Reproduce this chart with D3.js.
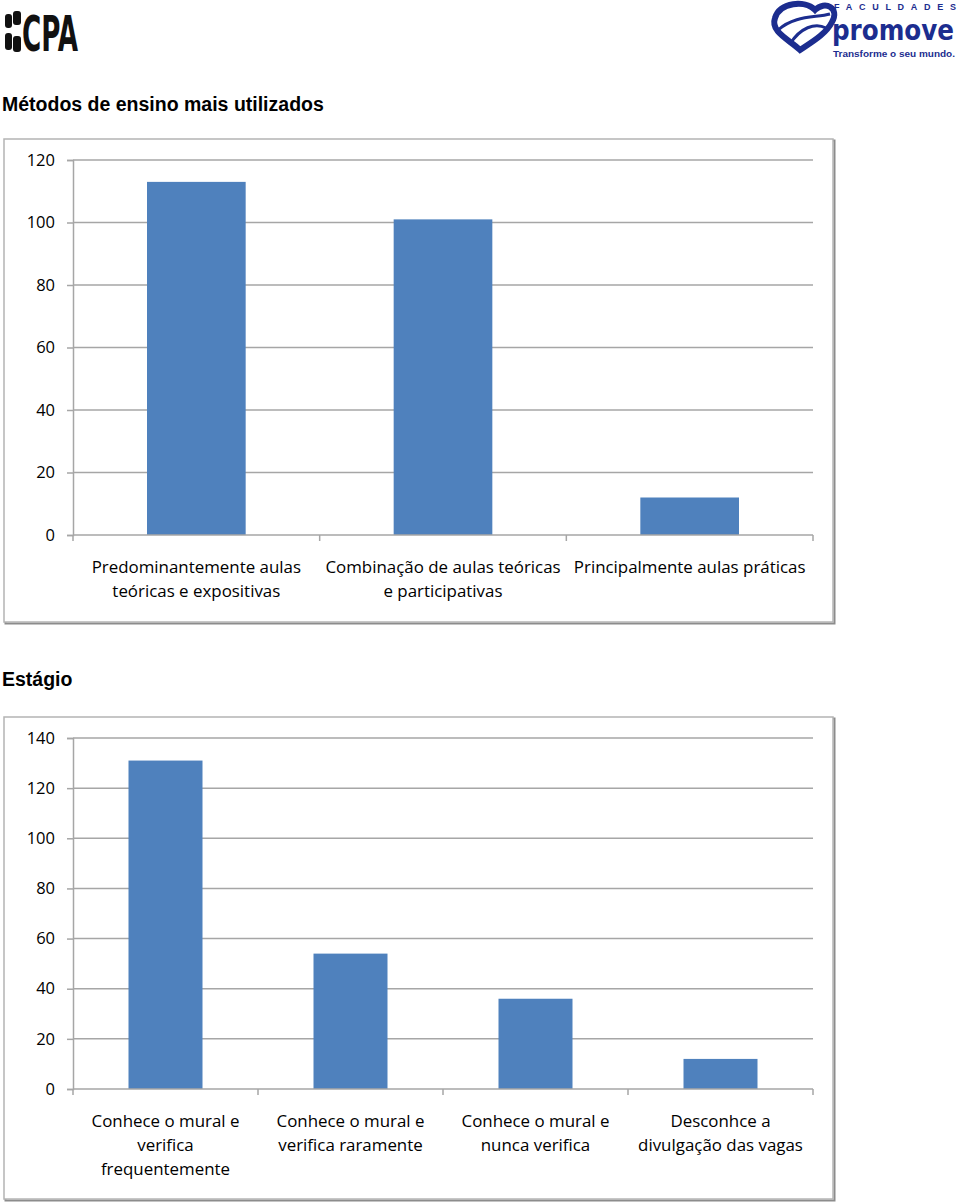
<!DOCTYPE html>
<html><head><meta charset="utf-8">
<script src="https://cdn.jsdelivr.net/npm/d3@7"></script>
<style>body{margin:0;background:#fff}svg{display:block}</style>
</head><body>
<script>
// ---- data ----
const chart1Title = "Métodos de ensino mais utilizados";
const chart1Categories = ["Predominantemente aulas\nteóricas e expositivas", "Combinação de aulas teóricas\ne participativas", "Principalmente aulas práticas"];
const chart1Values = [113, 101, 12];
const chart1Ticks = [0, 20, 40, 60, 80, 100, 120];

const chart2Title = "Estágio";
const chart2Categories = ["Conhece o mural e\nverifica\nfrequentemente", "Conhece o mural e\nverifica raramente", "Conhece o mural e\nnunca verifica", "Desconhce a\ndivulgação das vagas"];
const chart2Values = [131, 54, 36, 12];
const chart2Ticks = [0, 20, 40, 60, 80, 100, 120, 140];

const W = 960, H = 1204;
const svg = d3.select("body").append("svg").attr("width", W).attr("height", H);

// ---- logos (as text) ----
const cpa = svg.append("g");
cpa.append("rect").attr("x", 5).attr("y", 14).attr("width", 7).attr("height", 14).attr("rx", 3).attr("fill", "#111");
cpa.append("rect").attr("x", 5).attr("y", 33).attr("width", 7).attr("height", 17).attr("rx", 3).attr("fill", "#111");
cpa.append("rect").attr("x", 13).attr("y", 11).attr("width", 8).attr("height", 14).attr("rx", 3).attr("fill", "#111");
cpa.append("rect").attr("x", 13).attr("y", 36).attr("width", 8).attr("height", 16).attr("rx", 3).attr("fill", "#111");
cpa.append("text").attr("x", 22).attr("y", 51).attr("textLength", 56).attr("lengthAdjust", "spacingAndGlyphs")
  .attr("font-family", "DejaVu Sans Condensed, DejaVu Sans").attr("font-weight", "bold").attr("font-size", 50)
  .attr("fill", "#111").text("CPA");

const pm = svg.append("g");
const blue = "#1c2d8f";
pm.append("path").attr("d", "M775,18 C780,2 805,0 815,10 C825,0 840,8 832,22 C826,34 812,42 800,50 C790,40 770,32 775,18 Z")
  .attr("fill", "none").attr("stroke", blue).attr("stroke-width", 6);
pm.append("path").attr("d", "M778,30 C795,15 815,18 830,14 M790,44 C800,28 815,22 826,28")
  .attr("fill", "none").attr("stroke", blue).attr("stroke-width", 3);
pm.append("text").attr("x", 834).attr("y", 10).attr("textLength", 122).attr("lengthAdjust", "spacing")
  .attr("font-family", "Liberation Sans, Arial").attr("font-weight", "bold").attr("font-size", 9).attr("fill", blue).text("FACULDADES");
pm.append("text").attr("x", 832).attr("y", 40).attr("textLength", 122).attr("lengthAdjust", "spacingAndGlyphs")
  .attr("font-family", "DejaVu Sans Condensed, DejaVu Sans").attr("font-weight", "bold").attr("font-size", 28).attr("fill", blue).text("promove");
pm.append("text").attr("x", 833).attr("y", 57).attr("textLength", 122).attr("lengthAdjust", "spacingAndGlyphs")
  .attr("font-family", "Liberation Sans, Arial").attr("font-weight", "bold").attr("font-size", 9).attr("fill", blue).text("Transforme o seu mundo.");

// ---- chart builder ----
const labelFont = "Open Sans, Lato, sans-serif";
function drawChart(opts) {
  const {title, titleY, box, plot, categories, values, ticks} = opts;
  svg.append("text").attr("x", 2).attr("y", titleY)
    .attr("font-family", "Liberation Sans, Arial, sans-serif").attr("font-weight", "bold")
    .attr("font-size", 19.5).attr("fill", "#000").text(title);

  // frame with slight shadow
  svg.append("rect").attr("x", box.x + 1.5).attr("y", box.y + 1.5).attr("width", box.w).attr("height", box.h)
    .attr("fill", "none").attr("stroke", "#8c8c8c").attr("stroke-width", 2);
  svg.append("rect").attr("x", box.x).attr("y", box.y).attr("width", box.w).attr("height", box.h)
    .attr("fill", "#fff").attr("stroke", "#b4b4b4").attr("stroke-width", 1.5);

  const x = d3.scaleBand().domain(categories).range([plot.x0, plot.x1]).paddingInner(0.6).paddingOuter(0.3);
  const y = d3.scaleLinear().domain([0, d3.max(ticks)]).range([plot.y0, plot.y1]);
  const g = svg.append("g");

  // gridlines
  g.selectAll(".grid").data(ticks.filter(t => t > 0)).join("line")
    .attr("x1", plot.x0).attr("x2", plot.x1).attr("y1", d => y(d)).attr("y2", d => y(d))
    .attr("stroke", "#a6a6a6").attr("stroke-width", 1.5);

  // y axis
  const ya = g.append("g").attr("transform", `translate(${plot.x0},0)`)
    .call(d3.axisLeft(y).tickValues(ticks).tickSize(6).tickPadding(12).tickFormat(d3.format("d")));
  ya.select(".domain").attr("stroke", "#a6a6a6").attr("stroke-width", 1.5);
  ya.selectAll(".tick line").attr("stroke", "#a6a6a6").attr("stroke-width", 1.5);
  ya.selectAll(".tick text").attr("font-family", labelFont).attr("font-size", 16.5).attr("fill", "#000");

  // bars
  g.selectAll(".bar").data(values).join("rect")
    .attr("x", (d, i) => x(categories[i])).attr("width", x.bandwidth())
    .attr("y", d => y(d)).attr("height", d => y(0) - y(d))
    .attr("fill", "#4f81bd");

  // x axis line and boundary ticks
  g.append("line").attr("x1", plot.x0).attr("x2", plot.x1).attr("y1", y(0)).attr("y2", y(0))
    .attr("stroke", "#a6a6a6").attr("stroke-width", 1.5);
  const bounds = categories.map(c => x(c) - x.step() * x.paddingInner() / 2);
  bounds[0] = plot.x0; bounds.push(plot.x1);
  g.selectAll(".xt").data(bounds).join("line")
    .attr("x1", d => d).attr("x2", d => d).attr("y1", y(0)).attr("y2", y(0) + 6)
    .attr("stroke", "#a6a6a6").attr("stroke-width", 1.5);

  // category labels
  categories.forEach((c, i) => {
    const t = g.append("text").attr("text-anchor", "middle")
      .attr("font-family", labelFont).attr("font-size", 16.9).attr("fill", "#000");
    c.split("\n").forEach((line, k) => {
      t.append("tspan").attr("x", x(c) + x.bandwidth() / 2).attr("y", y(0) + 38 + k * 24).text(line);
    });
  });
}

drawChart({
  title: chart1Title, titleY: 111,
  box: {x: 4, y: 139, w: 829, h: 483},
  plot: {x0: 73, x1: 813, y0: 535, y1: 160},
  categories: chart1Categories, values: chart1Values, ticks: chart1Ticks
});
drawChart({
  title: chart2Title, titleY: 686,
  box: {x: 4, y: 717, w: 829, h: 482},
  plot: {x0: 73, x1: 813, y0: 1089, y1: 738},
  categories: chart2Categories, values: chart2Values, ticks: chart2Ticks
});
</script>
</body></html>
